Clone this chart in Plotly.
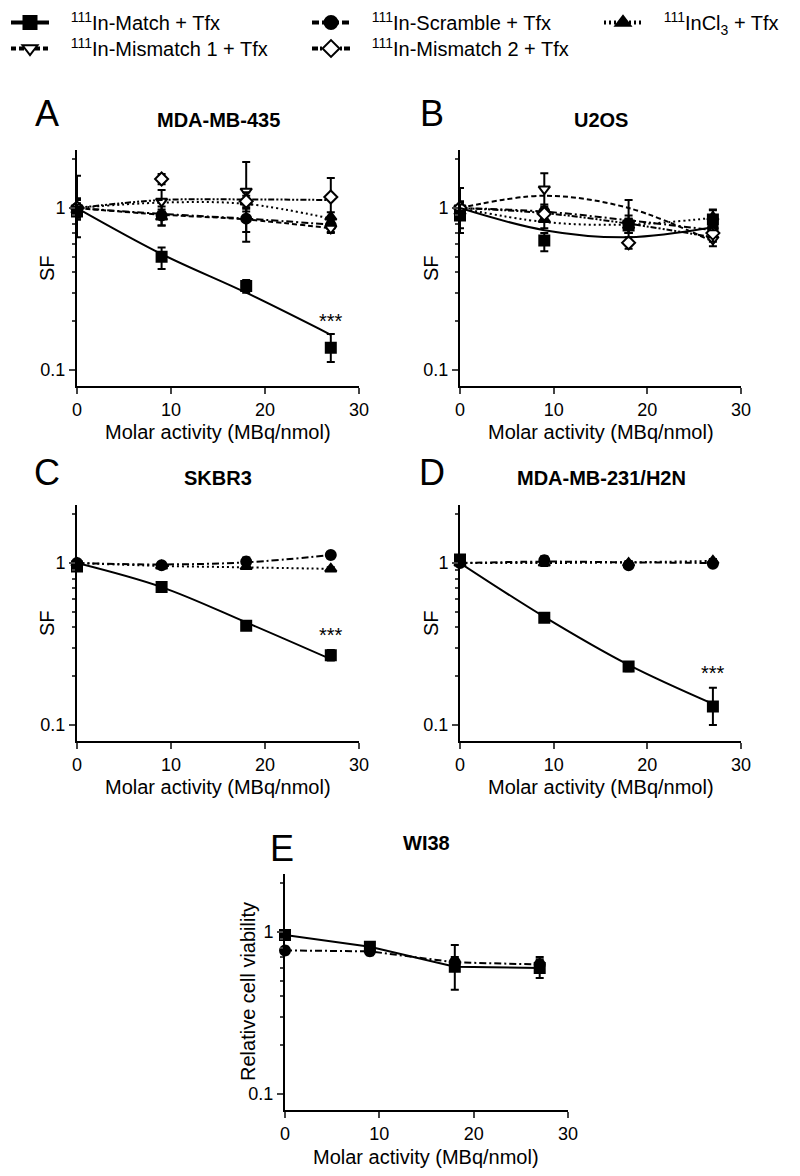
import math
import plotly.graph_objects as go

FONT = "Liberation Sans, Arial, sans-serif"

# ---------------- data ----------------
doses = [0, 9, 18, 27]
x_ticks = [0, 10, 20, 30]
y_ticks = [0.1, 1]
y_tick_text = ["0.1", "1"]
y_minor = [0.2, 0.3, 0.4, 0.5, 0.6, 0.7, 0.8, 0.9, 2]

series_names = [
    "<sup>111</sup>In-Match + Tfx",
    "<sup>111</sup>In-Scramble + Tfx",
    "<sup>111</sup>InCl<sub>3</sub> + Tfx",
    "<sup>111</sup>In-Mismatch 1 + Tfx",
    "<sup>111</sup>In-Mismatch 2 + Tfx",
]

# Panel A: MDA-MB-435
a_match = [0.95, 0.50, 0.33, 0.137]
a_match_up = [0.10, 0.07, 0.03, 0.03]
a_match_dn = [0.10, 0.08, 0.03, 0.025]
a_match_fit = [1.00, 0.52, 0.30, 0.165]
a_scr = [1.00, 0.90, 0.86, 0.78]
a_scr_up = [0.12, 0.12, 0.15, 0.06]
a_scr_dn = [0.12, 0.12, 0.15, 0.07]
a_scr_fit = [1.00, 0.92, 0.86, 0.79]
a_incl = [0.97, 0.88, 1.09, 0.88]
a_incl_up = [0.10, 0.10, 0.10, 0.06]
a_incl_dn = [0.10, 0.10, 0.10, 0.06]
a_incl_fit = [1.00, 1.08, 1.06, 0.86]
a_mm1 = [1.00, 1.10, 1.27, 0.75]
a_mm1_up = [0.58, 0.19, 0.65, 0.05]
a_mm1_dn = [0.34, 0.15, 0.65, 0.05]
a_mm1_fit = [1.00, 0.91, 0.85, 0.75]
a_mm2 = [1.00, 1.51, 1.10, 1.17]
a_mm2_up = [0.15, 0.11, 0.15, 0.36]
a_mm2_dn = [0.15, 0.11, 0.15, 0.36]
a_mm2_fit = [1.00, 1.12, 1.13, 1.12]

# Panel B: U2OS
b_match = [0.90, 0.63, 0.78, 0.85]
b_match_up = [0.15, 0.07, 0.08, 0.12]
b_match_dn = [0.15, 0.09, 0.08, 0.12]
b_match_fit = [1.00, 0.73, 0.66, 0.76]
b_scr = [0.98, 0.95, 0.80, 0.75]
b_scr_up = [0.10, 0.10, 0.10, 0.10]
b_scr_dn = [0.10, 0.10, 0.10, 0.10]
b_scr_fit = [1.00, 0.95, 0.84, 0.73]
b_incl = [0.95, 0.85, 0.78, 0.88]
b_incl_up = [0.10, 0.10, 0.08, 0.10]
b_incl_dn = [0.10, 0.10, 0.08, 0.10]
b_incl_fit = [1.00, 0.82, 0.79, 0.87]
b_mm1 = [1.00, 1.31, 0.80, 0.64]
b_mm1_up = [0.33, 0.33, 0.32, 0.06]
b_mm1_dn = [0.30, 0.33, 0.20, 0.06]
b_mm1_fit = [1.00, 1.19, 1.00, 0.62]
b_mm2 = [1.00, 0.92, 0.61, 0.70]
b_mm2_up = [0.10, 0.10, 0.05, 0.08]
b_mm2_dn = [0.10, 0.10, 0.05, 0.08]
b_mm2_fit = [1.00, 0.93, 0.80, 0.66]

# Panel C: SKBR3
c_match = [0.95, 0.71, 0.41, 0.27]
c_match_up = [0.04, 0.02, 0.02, 0.02]
c_match_dn = [0.04, 0.02, 0.02, 0.02]
c_match_fit = [1.00, 0.71, 0.43, 0.255]
c_scr = [1.00, 0.97, 1.02, 1.12]
c_scr_up = [0.03, 0.03, 0.06, 0.05]
c_scr_dn = [0.03, 0.03, 0.06, 0.05]
c_scr_fit = [1.00, 0.98, 1.01, 1.12]
c_incl = [1.00, 0.96, 0.95, 0.92]
c_incl_up = [0.03, 0.03, 0.03, 0.02]
c_incl_dn = [0.03, 0.03, 0.03, 0.02]
c_incl_fit = [1.00, 0.96, 0.94, 0.92]

# Panel D: MDA-MB-231/H2N
d_match = [1.05, 0.46, 0.23, 0.13]
d_match_up = [0.06, 0.02, 0.015, 0.04]
d_match_dn = [0.06, 0.02, 0.015, 0.03]
d_match_fit = [1.00, 0.465, 0.235, 0.135]
d_scr = [1.00, 1.04, 0.97, 0.99]
d_scr_up = [0.04, 0.06, 0.04, 0.03]
d_scr_dn = [0.04, 0.06, 0.04, 0.03]
d_scr_fit = [1.00, 1.02, 1.01, 1.00]
d_incl = [1.00, 1.00, 1.00, 1.03]
d_incl_up = [0.04, 0.04, 0.03, 0.03]
d_incl_dn = [0.04, 0.04, 0.03, 0.03]
d_incl_fit = [1.00, 1.00, 1.01, 1.03]

# Panel E: WI38 (relative cell viability, points joined)
e_match = [0.96, 0.81, 0.61, 0.60]
e_match_up = [0.05, 0.03, 0.22, 0.10]
e_match_dn = [0.05, 0.03, 0.17, 0.08]
e_scr = [0.77, 0.76, 0.65, 0.63]
e_scr_up = [0.04, 0.04, 0.05, 0.05]
e_scr_dn = [0.04, 0.04, 0.05, 0.05]

stars_y = {"A": 0.20, "C": 0.36, "D": 0.21}

# ---------------- styles ----------------
STYLE = {
    "match": dict(symbol="square", fill="black", dash="solid"),
    "scr": dict(symbol="circle", fill="black", dash="7px,3px,2px,3px"),
    "incl": dict(symbol="triangle-up", fill="black", dash="2px,3px"),
    "mm1": dict(symbol="triangle-down", fill="white", dash="5px,3px"),
    "mm2": dict(symbol="diamond", fill="white", dash="6px,2px,2px,2px,2px,2px"),
}
KEYS = ["match", "scr", "incl", "mm1", "mm2"]

# page offset: the html body has an 8px margin, so figure px = picture px - 8
OFF = 8
W, H = 792, 1168

fig = go.Figure()


def xd(a, b):
    return [(a - OFF) / W, (b - OFF) / W]


def yd(top, bottom):
    return [1 - (bottom - OFF) / H, 1 - (top - OFF) / H]


XDOM = {1: xd(77, 359), 2: xd(460, 741), 3: xd(77, 359), 4: xd(460, 741), 5: xd(285, 568)}
YDOM = {1: yd(149.7, 386.2), 2: yd(149.7, 386.2), 3: yd(504.7, 741.2),
        4: yd(504.7, 741.2), 5: yd(873.7, 1110.2)}
YRANGE = [-1.1, 0.36]


def axname(i, kind):
    return kind if i == 1 else f"{kind}{i}"


def add_series(i, key, vals, up, dn, fit=None, join=False):
    st = STYLE[key]
    xa = "x" if i == 1 else f"x{i}"
    ya = "y" if i == 1 else f"y{i}"
    if fit is not None:
        fig.add_trace(go.Scatter(
            x=doses, y=fit, mode="lines", xaxis=xa, yaxis=ya,
            line=dict(color="black", width=2, dash=st["dash"], shape="spline", smoothing=1.0),
            showlegend=False, hoverinfo="skip", cliponaxis=False,
        ))
    fig.add_trace(go.Scatter(
        x=doses, y=vals, mode="lines+markers" if join else "markers",
        xaxis=xa, yaxis=ya,
        line=dict(color="black", width=2, dash=st["dash"]),
        marker=dict(symbol=st["symbol"], size=10, color=st["fill"],
                    line=dict(color="black", width=2)),
        error_y=dict(type="data", array=up, arrayminus=dn, color="black",
                     thickness=2, width=4),
        showlegend=False, cliponaxis=False,
    ))


# Panel A
add_series(1, "scr", a_scr, a_scr_up, a_scr_dn, a_scr_fit)
add_series(1, "incl", a_incl, a_incl_up, a_incl_dn, a_incl_fit)
add_series(1, "mm1", a_mm1, a_mm1_up, a_mm1_dn, a_mm1_fit)
add_series(1, "mm2", a_mm2, a_mm2_up, a_mm2_dn, a_mm2_fit)
add_series(1, "match", a_match, a_match_up, a_match_dn, a_match_fit)
# Panel B
add_series(2, "scr", b_scr, b_scr_up, b_scr_dn, b_scr_fit)
add_series(2, "incl", b_incl, b_incl_up, b_incl_dn, b_incl_fit)
add_series(2, "mm1", b_mm1, b_mm1_up, b_mm1_dn, b_mm1_fit)
add_series(2, "mm2", b_mm2, b_mm2_up, b_mm2_dn, b_mm2_fit)
add_series(2, "match", b_match, b_match_up, b_match_dn, b_match_fit)
# Panel C
add_series(3, "scr", c_scr, c_scr_up, c_scr_dn, c_scr_fit)
add_series(3, "incl", c_incl, c_incl_up, c_incl_dn, c_incl_fit)
add_series(3, "match", c_match, c_match_up, c_match_dn, c_match_fit)
# Panel D
add_series(4, "scr", d_scr, d_scr_up, d_scr_dn, d_scr_fit)
add_series(4, "incl", d_incl, d_incl_up, d_incl_dn, d_incl_fit)
add_series(4, "match", d_match, d_match_up, d_match_dn, d_match_fit)
# Panel E
add_series(5, "scr", e_scr, e_scr_up, e_scr_dn, join=True)
add_series(5, "match", e_match, e_match_up, e_match_dn, join=True)

# legend entries: one small legend per entry, placed like the reference
LEG_OF = {"match": "legend", "scr": "legend2", "incl": "legend3", "mm1": "legend4", "mm2": "legend5"}
LEG_POS = {  # (picture x of legend box, picture y of legend top)
    "legend": (6, 3), "legend2": (307, 3), "legend3": (599, 3),
    "legend4": (6, 29), "legend5": (307, 29),
}
NB = "\u00a0\u00a0\u00a0"
for key, name in zip(KEYS, series_names):
    st = STYLE[key]
    fig.add_trace(go.Scatter(
        x=[None], y=[None], mode="lines+markers", name=NB + name,
        line=dict(color="black", width=4, dash=st["dash"]),
        marker=dict(symbol=st["symbol"], size=13, color=st["fill"],
                    line=dict(color="black", width=2)),
        legend=LEG_OF[key], showlegend=True,
    ))

layout = dict(
    width=W, height=H, autosize=False,
    margin=dict(l=0, r=0, t=0, b=0, autoexpand=False),
    paper_bgcolor="white", plot_bgcolor="white",
    font=dict(family=FONT, color="black", size=18),
)
for i in range(1, 6):
    layout[axname(i, "xaxis")] = dict(
        domain=XDOM[i], anchor=axname(i, "y"), range=[0, 30],
        tickmode="array", tickvals=x_ticks, ticks="outside", ticklen=6,
        tickwidth=2, showline=True, linewidth=2, linecolor="black",
        showgrid=False, zeroline=False, tickfont=dict(size=18, family=FONT),
    )
    layout[axname(i, "yaxis")] = dict(
        domain=YDOM[i], anchor=axname(i, "x"), type="log", range=YRANGE,
        tickmode="array", tickvals=y_ticks, ticktext=y_tick_text,
        ticks="outside", ticklen=6, tickwidth=2, showline=True, linewidth=2,
        linecolor="black", showgrid=False, zeroline=False,
        tickfont=dict(size=18, family=FONT),
        minor=dict(tickmode="array", tickvals=y_minor, ticks="outside",
                   ticklen=3, tickwidth=1.5, showgrid=False),
    )

LEG_COMMON = dict(xanchor="left", yanchor="top", orientation="v", itemwidth=38,
                  tracegroupgap=0, font=dict(size=20, family=FONT),
                  bgcolor="rgba(0,0,0,0)", itemclick=False, itemdoubleclick=False)
for lname, (px, py) in LEG_POS.items():
    layout[lname] = dict(x=(px - OFF) / W, y=1 - (py - OFF) / H, **LEG_COMMON)

fig.update_layout(**layout)

# annotations
ann = []


def pa(xp, yp, text, size, bold=False, angle=0):
    ann.append(dict(xref="paper", yref="paper", x=(xp - OFF) / W, y=1 - (yp - OFF) / H,
                    xanchor="center", yanchor="middle", showarrow=False,
                    text=f"<b>{text}</b>" if bold else text, textangle=angle,
                    font=dict(size=size, family=FONT, color="black")))


panels = [
    ("A", 47, 113, "MDA-MB-435", 218, 120),
    ("B", 432, 113, "U2OS", 601, 120),
    ("C", 47, 472, "SKBR3", 218, 478),
    ("D", 432, 472, "MDA-MB-231/H2N", 601, 478),
    ("E", 282, 848, "WI38", 426, 843),
]
for letter, lx, ly, title, tx, ty in panels:
    pa(lx, ly, letter, 36)
    pa(tx, ty, title, 20, bold=True)

for xp, yp in [(218, 432), (601, 432), (218, 787), (601, 787), (426, 1157)]:
    pa(xp, yp, "Molar activity (MBq/nmol)", 20)
for xp, yp in [(47, 268), (431, 268), (47, 623), (431, 623)]:
    pa(xp, yp, "SF", 20, angle=-90)
pa(248, 992, "Relative cell viability", 20, angle=-90)

for key, xa, ya in [("A", "x", "y"), ("C", "x3", "y3"), ("D", "x4", "y4")]:
    ann.append(dict(xref=xa, yref=ya, x=doses[-1], y=math.log10(stars_y[key]),
                    text="***", showarrow=False, xanchor="center", yanchor="middle",
                    font=dict(size=20, family=FONT, color="black")))

fig.update_layout(annotations=ann)
fig.write_html("out.html")
